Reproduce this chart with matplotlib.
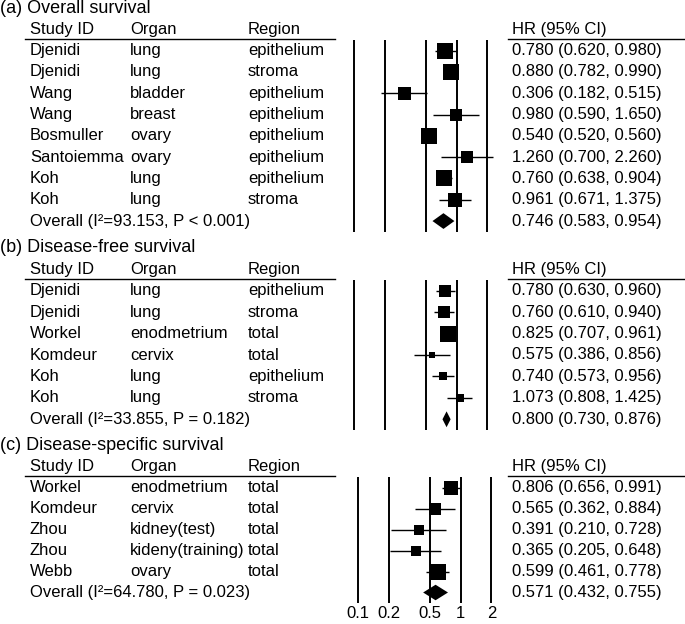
import numpy as np
import matplotlib.pyplot as plt
from matplotlib.transforms import blended_transform_factory
from matplotlib.patches import Polygon

plt.rcParams['font.family'] = ['Liberation Sans', 'DejaVu Sans']

W, H = 685, 624
fig = plt.figure(figsize=(W / 100, H / 100), dpi=100)

# --- data ---
# (a) Overall survival
study_a = ['Djenidi', 'Djenidi', 'Wang', 'Wang', 'Bosmuller', 'Santoiemma', 'Koh', 'Koh']
organ_a = ['lung', 'lung', 'bladder', 'breast', 'ovary', 'ovary', 'lung', 'lung']
region_a = ['epithelium', 'stroma', 'epithelium', 'epithelium', 'epithelium',
            'epithelium', 'epithelium', 'stroma']
hr_a = [0.780, 0.880, 0.306, 0.980, 0.540, 1.260, 0.760, 0.961]
lo_a = [0.620, 0.782, 0.182, 0.590, 0.520, 0.700, 0.638, 0.671]
hi_a = [0.980, 0.990, 0.515, 1.650, 0.560, 2.260, 0.904, 1.375]
weight_a = [16.0, 16.7, 13.0, 12.7, 16.7, 12.7, 16.7, 14.0]
overall_a = [0.746, 0.583, 0.954]
het_a = 'Overall (I²=93.153, P < 0.001)'

# (b) Disease-free survival
study_b = ['Djenidi', 'Djenidi', 'Workel', 'Komdeur', 'Koh', 'Koh']
organ_b = ['lung', 'lung', 'enodmetrium', 'cervix', 'lung', 'lung']
region_b = ['epithelium', 'stroma', 'total', 'total', 'epithelium', 'stroma']
hr_b = [0.780, 0.760, 0.825, 0.575, 0.740, 1.073]
lo_b = [0.630, 0.610, 0.707, 0.386, 0.573, 0.808]
hi_b = [0.960, 0.940, 0.961, 0.856, 0.956, 1.425]
weight_b = [12.3, 12.7, 16.7, 5.3, 8.3, 8.3]
overall_b = [0.800, 0.730, 0.876]
het_b = 'Overall (I²=33.855, P = 0.182)'

# (c) Disease-specific survival
study_c = ['Workel', 'Komdeur', 'Zhou', 'Zhou', 'Webb']
organ_c = ['enodmetrium', 'cervix', 'kidney(test)', 'kideny(training)', 'ovary']
region_c = ['total', 'total', 'total', 'total', 'total']
hr_c = [0.806, 0.565, 0.391, 0.365, 0.599]
lo_c = [0.656, 0.362, 0.210, 0.205, 0.461]
hi_c = [0.991, 0.884, 0.728, 0.648, 0.778]
weight_c = [14.7, 11.3, 9.3, 10.7, 15.7]
overall_c = [0.571, 0.432, 0.755]
het_c = 'Overall (I²=64.780, P = 0.023)'

ref_lines = [0.1, 0.2, 0.5, 1, 2]
ref_labels = ['0.1', '0.2', '0.5', '1', '2']


def draw_panel(title, study, organ, region, hr, lo, hi, weight, overall, het,
               top, bottom, x_tenth, show_ticks=False):
    n = len(study) + 1
    decade = 102.5
    xmin, xmax = 0.07, 2.8
    left = x_tenth + decade * np.log10(xmin / 0.1)
    right = x_tenth + decade * np.log10(xmax / 0.1)
    ax = fig.add_axes([left / W, 1 - bottom / H, (right - left) / W, (bottom - top) / H])
    ax.set_xscale('log')
    ax.set_xlim(xmin, xmax)
    ax.set_ylim(n - 0.5, -0.5)
    for s in ax.spines.values():
        s.set_visible(False)
    ax.minorticks_off()
    ax.set_yticks([])
    if show_ticks:
        ax.set_xticks(ref_lines)
        ax.set_xticklabels(ref_labels, fontsize=12)
        ax.tick_params(axis='x', length=0, pad=2)
    else:
        ax.set_xticks([])

    for v in ref_lines:
        ax.axvline(v, color='black', lw=1.4)

    rows = np.arange(len(study))
    ax.hlines(rows, lo, hi, color='black', lw=1)
    # box side grows with study weight (px -> pt)
    for r, h, w in zip(rows, hr, weight):
        ax.plot(h, r, 's', color='black', markersize=w * 0.72, markeredgewidth=0)

    # pooled estimate as a diamond
    est, dlo, dhi = overall
    r = len(study)
    dh = 0.37
    ax.add_patch(Polygon([(dlo, r), (est, r - dh), (dhi, r), (est, r + dh)],
                         closed=True, color='black', lw=0))

    tr = blended_transform_factory(fig.transFigure, ax.transData)
    ax.text(0 / W, -2, title, transform=tr, fontsize=13, va='center', ha='left')
    for x, lab in [(30, 'Study ID'), (130, 'Organ'), (248, 'Region'), (512, 'HR (95% CI)')]:
        ax.text(x / W, -1, lab, transform=tr, fontsize=12, va='center', ha='left')
    ax.plot([25 / W, 335 / W], [-0.55, -0.55], color='black', lw=1, transform=tr, clip_on=False)
    ax.plot([508 / W, 1], [-0.55, -0.55], color='black', lw=1, transform=tr, clip_on=False)

    for i in range(len(study)):
        ax.text(30 / W, i, study[i], transform=tr, fontsize=12, va='center')
        ax.text(130 / W, i, organ[i], transform=tr, fontsize=12, va='center')
        ax.text(248 / W, i, region[i], transform=tr, fontsize=12, va='center')
        ax.text(512 / W, i, f'{hr[i]:.3f} ({lo[i]:.3f}, {hi[i]:.3f})',
                transform=tr, fontsize=12, va='center')
    ax.text(30 / W, r, het, transform=tr, fontsize=12, va='center')
    ax.text(512 / W, r, f'{est:.3f} ({dlo:.3f}, {dhi:.3f})', transform=tr, fontsize=12, va='center')
    return ax


draw_panel('(a) Overall survival', study_a, organ_a, region_a, hr_a, lo_a, hi_a,
           weight_a, overall_a, het_a, top=40, bottom=231.7, x_tenth=354)
draw_panel('(b) Disease-free survival', study_b, organ_b, region_b, hr_b, lo_b, hi_b,
           weight_b, overall_b, het_b, top=280, bottom=430, x_tenth=354)
draw_panel('(c) Disease-specific survival', study_c, organ_c, region_c, hr_c, lo_c, hi_c,
           weight_c, overall_c, het_c, top=477, bottom=603, x_tenth=358, show_ticks=True)

fig.savefig('out.png', dpi=100)
